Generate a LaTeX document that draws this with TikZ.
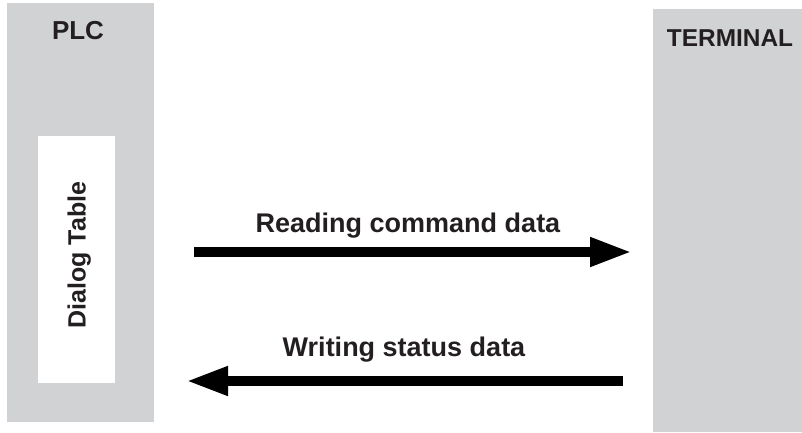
\documentclass[tikz,border=0pt]{standalone}
\usepackage{fontspec}
\setmainfont{Liberation Sans}
\usetikzlibrary{
    positioning,
    arrows.meta
}
\definecolor{panelgray}{RGB}{209,210,212}
\definecolor{inkdark}{RGB}{35,31,32}

\begin{document}
\begin{tikzpicture}[
    x=1pt, y=-1pt,
    every node/.style={inner sep=0pt, outer sep=0pt},
    panel/.style={rectangle, fill=panelgray, draw=none},
    tablebox/.style={rectangle, fill=white, draw=none},
    title/.style={font=\fontsize{26}{30}\selectfont\bfseries, text=inkdark},
    lbl/.style={font=\fontsize{27}{31}\selectfont\bfseries, text=inkdark, anchor=base},
    flow/.style={line width=10pt, draw=black,
        -{Triangle[length=42pt, width=27pt]}}
]
\useasboundingbox (0,0) rectangle (802,432);

% ---------- Panels ----------
\node[panel, minimum width=147pt, minimum height=419pt] (plc) at (80.5,212.5) {};
\node[panel, minimum width=149pt, minimum height=423pt] (term) at (727.5,220.5) {};
\node[tablebox, minimum width=77pt, minimum height=247pt] (dialog) at (76.5,259.5) {};

% ---------- Titles ----------
\node[title] (plctitle) at (78,31) {PLC};
\node[title, font=\fontsize{24.4}{28}\selectfont\bfseries] (termtitle) at (730,38) {TERMINAL};
\node[lbl, rotate=90, font=\fontsize{25}{29}\selectfont\bfseries] (dialogtitle) at (85.5,255) {Dialog Table};

% ---------- Arrow ends ----------
\coordinate (readstart) at (194,252);
\coordinate (readend)   at (632,252);
\coordinate (writestart) at (623,381);
\coordinate (writeend)   at (186,381);

% ---------- Data flow ----------
\draw[flow] (readstart) -- (readend);
\draw[flow] (writestart) -- (writeend);

\node[lbl] (readlbl)  at (408,232) {Reading command data};
\node[lbl] (writelbl) at (404,356) {Writing status data};

\end{tikzpicture}
\end{document}
